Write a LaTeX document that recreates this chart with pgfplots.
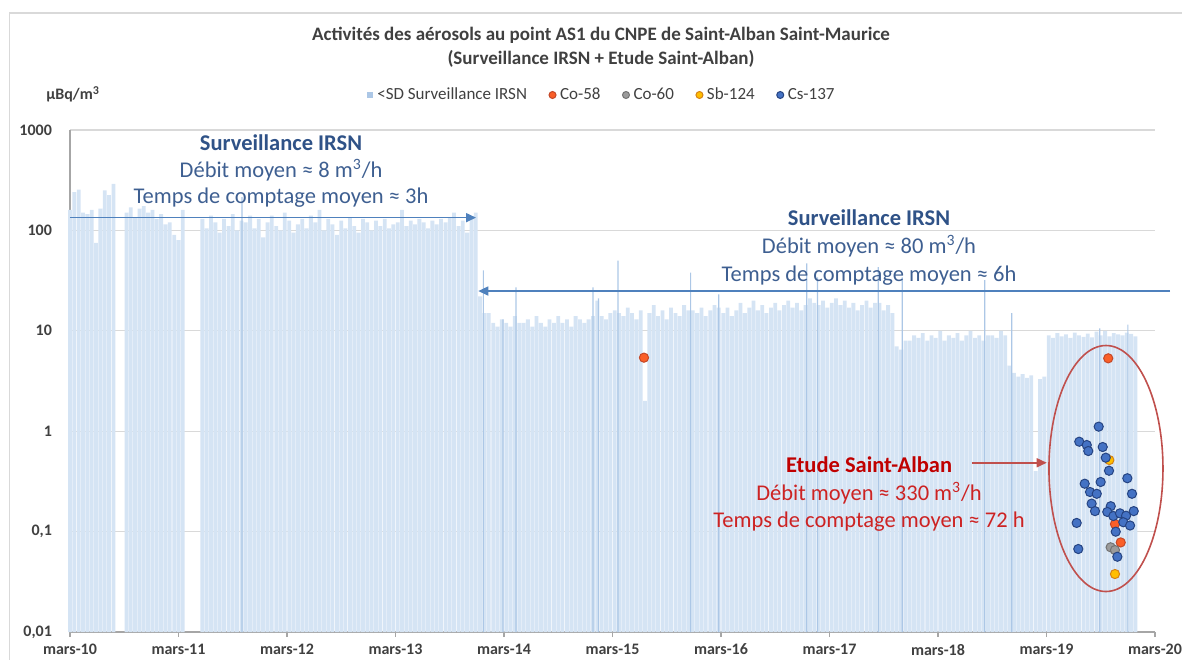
\documentclass[border=0pt]{standalone}
\usepackage{pgfplots}
\usepackage{pgfplotstable}
\pgfplotsset{compat=1.18}
\usepackage{fontspec}
\setmainfont{Carlito}
\usetikzlibrary{arrows.meta}

\definecolor{barblue}{RGB}{213,228,244}
\definecolor{barline}{RGB}{172,199,230}
\definecolor{gridgray}{RGB}{217,217,217}
\definecolor{axgray}{RGB}{166,166,166}
\definecolor{txtgray}{RGB}{64,64,64}
\definecolor{co58}{RGB}{250,95,40}
\definecolor{co58e}{RGB}{196,72,40}
\definecolor{co60}{RGB}{155,155,155}
\definecolor{co60e}{RGB}{115,115,115}
\definecolor{sb124}{RGB}{255,190,0}
\definecolor{sb124e}{RGB}{214,130,20}
\definecolor{cs137}{RGB}{68,114,196}
\definecolor{cs137e}{RGB}{38,68,130}
\definecolor{irsnhead}{RGB}{47,82,135}
\definecolor{irsntxt}{RGB}{62,95,145}
\definecolor{irsnarrow}{RGB}{79,129,189}
\definecolor{sahead}{RGB}{192,0,0}
\definecolor{satxt}{RGB}{205,35,35}
\definecolor{saline}{RGB}{192,80,77}

\pgfplotsset{
  dotleg/.style={legend image code/.code={\draw[##1] plot coordinates {(1.8pt,0pt)};}},
  sqleg/.style={legend image code/.code={\fill[barline] (0pt,-1.7pt) rectangle (3.4pt,1.7pt);}},
}

% x = years since March 2010, v = activity (uBq/m3), <SD values
\pgfplotstableread{
t v
0.00 160
0.04 240
0.08 255
0.12 150
0.16 145
0.20 160
0.24 75
0.28 165
0.32 250
0.36 225
0.40 290
0.52 150
0.56 170
0.60 135
0.64 165
0.68 175
0.72 150
0.76 160
0.80 130
0.84 145
0.88 115
0.92 120
0.96 90
1.00 80
1.04 160
1.22 130
1.26 105
1.30 140
1.34 120
1.38 95
1.42 130
1.46 110
1.50 145
1.54 100
1.58 125
1.62 120
1.66 140
1.70 105
1.74 130
1.78 85
1.82 120
1.86 140
1.90 110
1.94 100
1.98 150
2.02 125
2.06 95
2.10 115
2.14 130
2.18 105
2.22 140
2.26 120
2.30 160
2.34 100
2.38 130
2.42 115
2.46 90
2.50 125
2.54 105
2.58 135
2.62 110
2.66 95
2.70 130
2.74 120
2.78 100
2.82 125
2.86 110
2.90 130
2.94 105
2.98 115
3.02 120
3.06 160
3.10 110
3.14 125
3.18 115
3.22 130
3.26 120
3.30 105
3.34 125
3.38 115
3.42 130
3.46 120
3.50 135
3.54 150
3.58 110
3.62 125
3.66 95
3.70 130
3.74 150
3.78 22
3.82 15
3.86 15
3.90 12
3.94 11
3.98 13
4.02 12
4.06 11
4.10 14
4.14 12
4.18 12
4.22 13
4.26 11
4.30 14
4.34 12
4.38 11
4.42 13
4.46 12
4.50 14
4.54 12
4.58 13
4.62 11
4.66 14
4.70 13
4.74 12
4.78 13
4.82 14
4.86 20
4.90 14
4.94 13
4.98 15
5.02 16
5.06 15
5.10 14
5.14 17
5.18 15
5.22 13
5.26 16
5.30 2
5.34 15
5.38 18
5.42 14
5.46 16
5.50 13
5.54 17
5.58 15
5.62 14
5.66 18
5.70 16
5.74 16
5.78 15
5.82 17
5.86 14
5.90 16
5.94 18
5.98 17
6.02 15
6.06 17
6.10 14
6.14 16
6.18 19
6.22 15
6.26 17
6.30 20
6.34 16
6.38 18
6.42 15
6.46 17
6.50 19
6.54 16
6.58 18
6.62 20
6.66 17
6.70 19
6.74 16
6.78 18
6.82 21
6.86 19
6.90 18
6.94 20
6.98 17
7.02 19
7.06 21
7.10 18
7.14 20
7.18 17
7.22 19
7.26 16
7.30 18
7.34 20
7.38 17
7.42 19
7.46 19
7.50 16
7.54 18
7.58 15
7.62 7
7.66 6.5
7.70 8
7.74 8
7.78 9
7.82 8.5
7.86 9.5
7.90 8
7.94 9
7.98 8.5
8.02 10
8.06 8
8.10 9
8.14 8.5
8.18 9.5
8.22 8
8.26 9
8.30 10
8.34 8.5
8.38 9
8.42 8
8.46 9
8.50 9
8.54 8.5
8.58 10
8.62 9
8.66 4.5
8.70 3.8
8.74 3.5
8.78 3.7
8.82 3.4
8.86 3.6
8.90 0.4
8.94 3.3
8.98 3.5
9.02 9
9.06 8.5
9.10 9.5
9.14 8.8
9.18 9.2
9.22 8.5
9.26 9.6
9.30 9
9.34 8.7
9.38 9.4
9.42 8.6
9.46 9.8
9.50 9
9.54 10
9.58 8.8
9.62 9.5
9.66 9.2
9.70 9
9.74 9.6
9.78 9.3
9.82 8.8
}\sdbars

% single darker / taller bars
\pgfplotstableread{
t v
1.585 215
3.81 40
3.99 13
4.11 27
4.82 27
4.87 21
5.05 50
5.72 38
5.98 23
6.79 47
6.89 34
7.45 43
7.67 34
8.43 32
8.68 15
9.49 10.6
9.75 11.5
}\sdspikes

\begin{document}
\begin{tikzpicture}
\useasboundingbox (-35pt,-13.5pt) rectangle (556pt,316pt);
\draw[gridgray, line width=0.6pt] (-30.2pt,-20pt) -- (-30.2pt,309.5pt) -- (570pt,309.5pt);
\begin{axis}[
    at={(0pt,0pt)}, anchor=south west,
    scale only axis,
    width=542.5pt, height=251pt,
    xmin=0, xmax=10,
    ymin=0.01, ymax=1000,
    ymode=log, log origin=infty,
    clip=false,
    axis lines*=left,
    axis line style={axgray, line width=0.6pt},
    xtick={0,1,2,3,4,5,6,7,8,9,10},
    xticklabels={mars-10,mars-11,mars-12,mars-13,mars-14,mars-15,mars-16,mars-17,mars-18,mars-19,mars-20},
    ytick={0.01,0.1,1,10,100,1000},
    yticklabels={{0,01},{0,1},1,10,100,1000},
    yminorticks=false,
    tick align=outside,
    major tick length=2.5pt,
    xtick style={axgray, line width=0.6pt},
    ytick style={draw=none},
    tick label style={font=\bfseries\fontsize{8}{9.6}\selectfont, text=txtgray},
    yticklabel style={xshift=-3pt},
    ymajorgrids,
    grid style={gridgray, line width=0.6pt},
    legend columns=5,
    legend style={at={(0.4908,1)}, anchor=center, yshift=17.5pt, draw=none, fill=none,
        font=\fontsize{8.5}{10}\selectfont, text=txtgray,
        /tikz/every even column/.append style={column sep=9pt}},
    legend image post style={mark size=1.75pt},
]
\addplot[ybar, bar shift=0pt, bar width=1.9pt, fill=barblue, draw=none, sqleg]
    table[x=t, y=v] {\sdbars};
\addlegendentry{<SD Surveillance IRSN}
\addplot[ybar, bar shift=0pt, bar width=0.6pt, fill=barline, draw=none, forget plot]
    table[x=t, y=v] {\sdspikes};

\addplot[only marks, mark=*, mark size=2.3pt, mark options={fill=co58, draw=co58e, line width=0.5pt}, dotleg]
    coordinates {(5.29,5.40) (9.569,5.32) (9.631,0.119) (9.684,0.078)};
\addlegendentry{Co-58}
\addplot[only marks, mark=*, mark size=2.3pt, mark options={fill=co60, draw=co60e, line width=0.5pt}, dotleg]
    coordinates {(9.591,0.0698) (9.631,0.0655)};
\addlegendentry{Co-60}
\addplot[only marks, mark=*, mark size=2.3pt, mark options={fill=sb124, draw=sb124e, line width=0.5pt}, dotleg]
    coordinates {(9.579,0.516) (9.631,0.0378)};
\addlegendentry{Sb-124}
\addplot[only marks, mark=*, mark size=2.3pt, mark options={fill=cs137, draw=cs137e, line width=0.5pt}, dotleg]
    coordinates {
    (9.481,1.11) (9.302,0.786) (9.371,0.729) (9.385,0.635) (9.518,0.696)
    (9.546,0.545) (9.576,0.404) (9.745,0.340) (9.352,0.300) (9.499,0.312)
    (9.401,0.248) (9.463,0.238) (9.788,0.238) (9.416,0.190) (9.447,0.160)
    (9.592,0.179) (9.560,0.157) (9.616,0.143) (9.677,0.152) (9.733,0.144)
    (9.804,0.160) (9.708,0.124) (9.770,0.115) (9.278,0.122) (9.638,0.0998)
    (9.293,0.0671) (9.653,0.0562)};
\addlegendentry{Cs-137}

% arrows and ellipse
\draw[irsnarrow, line width=0.8pt, -{Triangle[length=5pt,width=4.5pt]}]
    (axis cs:0,134) -- (axis cs:3.742,134);
\draw[irsnarrow, line width=0.8pt, -{Triangle[length=5pt,width=4.5pt]}]
    (axis cs:10.14,24.9) -- (axis cs:3.763,24.9);
\draw[saline, line width=0.8pt, -{Triangle[length=5pt,width=4.5pt]}]
    (axis cs:8.313,0.485) -- (axis cs:9.002,0.485);
\draw[saline, line width=0.8pt] (axis cs:9.548,0.425) ellipse [x radius=28.5pt, y radius=61.5pt];

% annotations
\node[anchor=base, font=\bfseries\fontsize{11.25}{13}\selectfont, text=irsnhead] at (rel axis cs:0.1945,0.9588) {Surveillance IRSN};
\node[anchor=base, font=\fontsize{11.25}{13}\selectfont, text=irsntxt] at (rel axis cs:0.1945,0.9058) {Débit moyen ≈ 8 m\textsuperscript{3}/h};
\node[anchor=base, font=\fontsize{11.25}{13}\selectfont, text=irsntxt] at (rel axis cs:0.1945,0.8526) {Temps de comptage moyen ≈ 3h};
\node[anchor=base, font=\bfseries\fontsize{11.25}{13}\selectfont, text=irsnhead] at (rel axis cs:0.7364,0.8088) {Surveillance IRSN};
\node[anchor=base, font=\fontsize{11.25}{13}\selectfont, text=irsntxt] at (rel axis cs:0.7364,0.7540) {Débit moyen ≈ 80 m\textsuperscript{3}/h};
\node[anchor=base, font=\fontsize{11.25}{13}\selectfont, text=irsntxt] at (rel axis cs:0.7364,0.6992) {Temps de comptage moyen ≈ 6h};
\node[anchor=base, font=\bfseries\fontsize{11.25}{13}\selectfont, text=sahead] at (rel axis cs:0.7364,0.3187) {Etude Saint-Alban};
\node[anchor=base, font=\fontsize{11.25}{13}\selectfont, text=satxt] at (rel axis cs:0.7364,0.2629) {Débit moyen ≈ 330 m\textsuperscript{3}/h};
\node[anchor=base, font=\fontsize{11.25}{13}\selectfont, text=satxt] at (rel axis cs:0.7364,0.2072) {Temps de comptage moyen ≈ 72 h};

% title and unit
\node[anchor=base, font=\bfseries\fontsize{9.5}{11}\selectfont, text=txtgray] at ([yshift=44.5pt]rel axis cs:0.4894,1) {Activités des aérosols au point AS1 du CNPE de Saint-Alban Saint-Maurice};
\node[anchor=base, font=\bfseries\fontsize{9.5}{11}\selectfont, text=txtgray] at ([yshift=32.5pt]rel axis cs:0.4894,1) {(Surveillance IRSN + Etude Saint-Alban)};
\node[anchor=base west, font=\bfseries\fontsize{8}{9.6}\selectfont, text=txtgray, inner sep=0pt] at ([xshift=-12pt,yshift=15pt]rel axis cs:0,1) {µBq/m\textsuperscript{3}};
\end{axis}
\end{tikzpicture}
\end{document}
